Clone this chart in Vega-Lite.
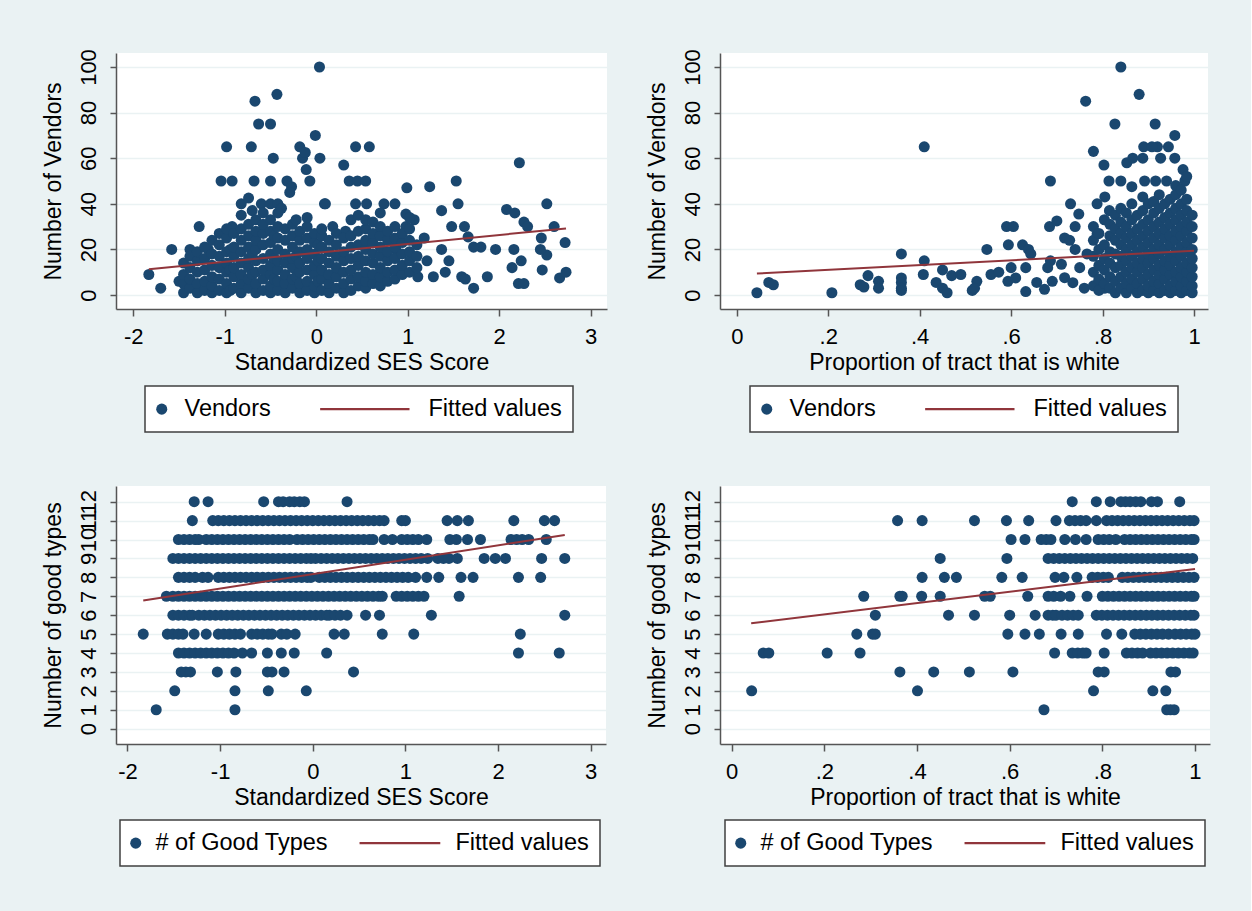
{
"$schema": "https://vega.github.io/schema/vega-lite/v6.json",
"background": "#EAF2F3",
"padding": {"left": 41, "top": 48, "right": 41, "bottom": 47},
"bounds": "flush",
"columns": 2,
"spacing": {"row": 177, "column": 113},
"config": {
  "view": {"fill": "white", "stroke": null},
  "axis": {"labelFont": "Liberation Sans", "titleFont": "Liberation Sans", "labelFontSize": 22, "titleFontSize": 23, "titleFontWeight": "normal", "labelColor": "#000", "titleColor": "#000", "domainColor": "#555", "domainWidth": 1.5, "tickColor": "#555", "tickWidth": 1.5, "gridColor": "#EAF2F3", "gridWidth": 1.5},
  "axisX": {"grid": false, "tickSize": 7, "labelPadding": 10, "minExtent": 40, "maxExtent": 40, "titlePadding": 2},
  "axisY": {"grid": true, "tickSize": 6, "labelPadding": 15, "minExtent": 40, "maxExtent": 40, "titlePadding": 16},
  "legend": {"orient": "none", "direction": "horizontal", "fillColor": "white", "strokeColor": "#404040", "strokeWidth": 1.5, "padding": 11, "labelFont": "Liberation Sans", "labelFontSize": 23.5, "labelColor": "#000", "labelLimit": 400, "symbolSize": 122, "symbolStrokeWidth": 0}
},
"resolve": {"scale": {"color": "independent", "shape": "independent"}, "legend": {"color": "independent", "shape": "independent"}},
"concat": [
 {
  "width": 491, "height": 256,
  "encoding": {
   "x": {"field": "x", "type": "quantitative", "scale": {"domain": [-2.189, 3.178], "nice": false, "zero": false}, "axis": {"values": [-2,-1,0,1,2,3], "labelExpr": "toString(datum.value)", "labelFlush": false, "labelOverlap": false, "title": "Standardized SES Score"}},
   "y": {"field": "y", "type": "quantitative", "scale": {"domain": [-6.14, 106.14], "nice": false, "zero": false}, "axis": {"values": [0,20,40,60,80,100], "labelFlush": false, "labelOverlap": false, "title": "Number of Vendors", "labelAngle": 270, "labelAlign": "center", "labelBaseline": "alphabetic", "titleAngle": 270, "titleBaseline": "alphabetic"}}
  },
  "layer": [
   {
    "data": {"values": [
{"x":0.035,"y":100},{"x":-0.43,"y":88},{"x":-0.67,"y":85},{"x":-0.63,"y":75},{"x":-0.5,"y":75},{"x":-0.01,"y":70},{"x":-0.98,"y":65},{"x":-0.71,"y":65},{"x":-0.18,"y":65},{"x":0.43,"y":65},{"x":0.58,"y":65},{"x":-0.47,"y":60},{"x":-0.15,"y":60},{"x":0.04,"y":60},{"x":-0.12,"y":62.5},{"x":2.22,"y":58},{"x":0.3,"y":57},{"x":-0.11,"y":55},{"x":-1.04,"y":50},{"x":-0.92,"y":50},{"x":-0.68,"y":50},{"x":-0.5,"y":50},{"x":-0.32,"y":50},{"x":-0.07,"y":50},{"x":0.36,"y":50},{"x":0.45,"y":50},{"x":0.54,"y":50},{"x":1.53,"y":50},{"x":-0.27,"y":47.5},{"x":-0.29,"y":45},{"x":0.99,"y":47},{"x":1.24,"y":47.5},{"x":-0.82,"y":40},{"x":-0.74,"y":42.5},{"x":-0.6,"y":40},{"x":-0.5,"y":40},{"x":-0.42,"y":40},{"x":0.09,"y":40},{"x":0.43,"y":40},{"x":0.55,"y":40},{"x":0.74,"y":40},{"x":1.55,"y":40},{"x":2.52,"y":40},{"x":-0.38,"y":38},{"x":1.37,"y":37},{"x":2.08,"y":37.5},{"x":2.17,"y":36},{"x":2.27,"y":32},{"x":2.31,"y":30},{"x":2.6,"y":30},{"x":-1.28,"y":30},{"x":-0.92,"y":30},{"x":0.98,"y":30},{"x":1.48,"y":30},{"x":1.62,"y":30},{"x":2.46,"y":25},{"x":2.72,"y":23},{"x":2.52,"y":17.5},{"x":2.45,"y":20},{"x":2.16,"y":20},{"x":1.96,"y":20},{"x":1.8,"y":21},{"x":1.72,"y":21},{"x":1.66,"y":25.5},{"x":1.37,"y":20},{"x":1.21,"y":15},{"x":1.45,"y":15},{"x":2.24,"y":15},{"x":1.28,"y":8},{"x":1.41,"y":10},{"x":1.59,"y":8},{"x":1.63,"y":7},{"x":1.72,"y":3},{"x":1.87,"y":8},{"x":2.14,"y":12},{"x":2.21,"y":5},{"x":2.27,"y":5},{"x":2.47,"y":11},{"x":2.66,"y":7.5},{"x":2.73,"y":10},{"x":-1.58,"y":20},{"x":-1.83,"y":9},{"x":-1.7,"y":3},{"x":1.11,"y":8},{"x":0.32,"y":28},{"x":0.18,"y":30},{"x":0.1,"y":40},{"x":0.86,"y":40},{"x":0.98,"y":35.5},{"x":1.07,"y":33},{"x":1.18,"y":25},{"x":0.87,"y":20},{"x":-1.38,"y":20},{"x":-1.18,"y":20},
{"x":-1.5,"y":6},{"x":-1.45,"y":1},{"x":-1.45,"y":5},{"x":-1.45,"y":9},{"x":-1.45,"y":14},{"x":-1.38,"y":3},{"x":-1.38,"y":7},{"x":-1.38,"y":12},{"x":-1.38,"y":17},{"x":-1.3,"y":1},{"x":-1.3,"y":5},{"x":-1.3,"y":10},{"x":-1.3,"y":15},{"x":-1.3,"y":19},{"x":-1.22,"y":2},{"x":-1.22,"y":6},{"x":-1.22,"y":11},{"x":-1.22,"y":16},{"x":-1.22,"y":21},{"x":-1.14,"y":1},{"x":-1.14,"y":4},{"x":-1.14,"y":8},{"x":-1.14,"y":13},{"x":-1.14,"y":18},{"x":-1.14,"y":24},{"x":-1.06,"y":2},{"x":-1.06,"y":7},{"x":-1.06,"y":12},{"x":-1.06,"y":17},{"x":-1.06,"y":22},{"x":-1.06,"y":27},{"x":-0.98,"y":1},{"x":-0.98,"y":5},{"x":-0.98,"y":10},{"x":-0.98,"y":14},{"x":-0.98,"y":19},{"x":-0.98,"y":25},{"x":-0.98,"y":29},{"x":-0.94,"y":2},{"x":-0.94,"y":11},{"x":-0.94,"y":20},{"x":-0.9,"y":3},{"x":-0.9,"y":8},{"x":-0.9,"y":12},{"x":-0.9,"y":17},{"x":-0.9,"y":21},{"x":-0.9,"y":27},{"x":-0.82,"y":1},{"x":-0.82,"y":5},{"x":-0.82,"y":9},{"x":-0.82,"y":14},{"x":-0.82,"y":19},{"x":-0.82,"y":24},{"x":-0.82,"y":29},{"x":-0.82,"y":35},{"x":-0.74,"y":3},{"x":-0.74,"y":7},{"x":-0.74,"y":12},{"x":-0.74,"y":16},{"x":-0.74,"y":21},{"x":-0.74,"y":26},{"x":-0.74,"y":31},{"x":-0.7,"y":9},{"x":-0.7,"y":18},{"x":-0.7,"y":37},{"x":-0.66,"y":1},{"x":-0.66,"y":5},{"x":-0.66,"y":10},{"x":-0.66,"y":15},{"x":-0.66,"y":20},{"x":-0.66,"y":24},{"x":-0.66,"y":28},{"x":-0.66,"y":33},{"x":-0.58,"y":2},{"x":-0.58,"y":7},{"x":-0.58,"y":11},{"x":-0.58,"y":16},{"x":-0.58,"y":22},{"x":-0.58,"y":27},{"x":-0.58,"y":31},{"x":-0.58,"y":36},{"x":-0.5,"y":1},{"x":-0.5,"y":4},{"x":-0.5,"y":9},{"x":-0.5,"y":13},{"x":-0.5,"y":18},{"x":-0.5,"y":23},{"x":-0.5,"y":28},{"x":-0.5,"y":33},{"x":-0.46,"y":7},{"x":-0.46,"y":16},{"x":-0.46,"y":26},{"x":-0.42,"y":2},{"x":-0.42,"y":6},{"x":-0.42,"y":11},{"x":-0.42,"y":15},{"x":-0.42,"y":20},{"x":-0.42,"y":25},{"x":-0.42,"y":30},{"x":-0.42,"y":36},{"x":-0.34,"y":1},{"x":-0.34,"y":5},{"x":-0.34,"y":9},{"x":-0.34,"y":14},{"x":-0.34,"y":18},{"x":-0.34,"y":24},{"x":-0.34,"y":29},{"x":-0.26,"y":3},{"x":-0.26,"y":7},{"x":-0.26,"y":12},{"x":-0.26,"y":16},{"x":-0.26,"y":21},{"x":-0.26,"y":26},{"x":-0.26,"y":31},{"x":-0.22,"y":8},{"x":-0.22,"y":17},{"x":-0.22,"y":33},{"x":-0.18,"y":1},{"x":-0.18,"y":5},{"x":-0.18,"y":10},{"x":-0.18,"y":14},{"x":-0.18,"y":19},{"x":-0.18,"y":24},{"x":-0.18,"y":28},{"x":-0.1,"y":2},{"x":-0.1,"y":6},{"x":-0.1,"y":11},{"x":-0.1,"y":16},{"x":-0.1,"y":20},{"x":-0.1,"y":25},{"x":-0.1,"y":30},{"x":-0.1,"y":34},{"x":-0.02,"y":1},{"x":-0.02,"y":4},{"x":-0.02,"y":9},{"x":-0.02,"y":13},{"x":-0.02,"y":18},{"x":-0.02,"y":23},{"x":-0.02,"y":27},{"x":0.02,"y":6},{"x":0.02,"y":15},{"x":0.02,"y":22},{"x":0.06,"y":2},{"x":0.06,"y":7},{"x":0.06,"y":11},{"x":0.06,"y":16},{"x":0.06,"y":21},{"x":0.06,"y":26},{"x":0.06,"y":29},{"x":0.14,"y":1},{"x":0.14,"y":5},{"x":0.14,"y":9},{"x":0.14,"y":14},{"x":0.14,"y":19},{"x":0.14,"y":24},{"x":0.22,"y":3},{"x":0.22,"y":8},{"x":0.22,"y":12},{"x":0.22,"y":17},{"x":0.22,"y":22},{"x":0.22,"y":27},{"x":0.3,"y":1},{"x":0.3,"y":5},{"x":0.3,"y":10},{"x":0.3,"y":15},{"x":0.3,"y":19},{"x":0.3,"y":25},{"x":0.38,"y":2},{"x":0.38,"y":7},{"x":0.38,"y":11},{"x":0.38,"y":16},{"x":0.38,"y":21},{"x":0.38,"y":26},{"x":0.38,"y":33},{"x":0.46,"y":4},{"x":0.46,"y":8},{"x":0.46,"y":13},{"x":0.46,"y":17},{"x":0.46,"y":22},{"x":0.46,"y":28},{"x":0.46,"y":35},{"x":0.54,"y":3},{"x":0.54,"y":6},{"x":0.54,"y":10},{"x":0.54,"y":15},{"x":0.54,"y":20},{"x":0.54,"y":24},{"x":0.54,"y":29},{"x":0.54,"y":33},{"x":0.62,"y":5},{"x":0.62,"y":9},{"x":0.62,"y":14},{"x":0.62,"y":18},{"x":0.62,"y":23},{"x":0.62,"y":27},{"x":0.62,"y":32},{"x":0.7,"y":4},{"x":0.7,"y":8},{"x":0.7,"y":12},{"x":0.7,"y":17},{"x":0.7,"y":21},{"x":0.7,"y":26},{"x":0.7,"y":30},{"x":0.7,"y":36},{"x":0.78,"y":6},{"x":0.78,"y":10},{"x":0.78,"y":15},{"x":0.78,"y":19},{"x":0.78,"y":24},{"x":0.78,"y":28},{"x":0.86,"y":7},{"x":0.86,"y":11},{"x":0.86,"y":16},{"x":0.86,"y":21},{"x":0.86,"y":25},{"x":0.86,"y":30},{"x":0.94,"y":9},{"x":0.94,"y":13},{"x":0.94,"y":18},{"x":0.94,"y":23},{"x":0.94,"y":27},{"x":1.02,"y":10},{"x":1.02,"y":15},{"x":1.02,"y":19},{"x":1.02,"y":24},{"x":1.02,"y":29},{"x":1.02,"y":34},{"x":1.1,"y":12},{"x":1.1,"y":17},{"x":1.1,"y":22}
    ]},
    "mark": {"type": "point", "filled": true, "size": 122, "opacity": 1},
    "encoding": {
     "color": {"datum": "Vendors", "type": "nominal", "scale": {"domain": ["Vendors", "Fitted values"], "range": ["#1a476f", "#90353b"]}, "legend": {"title": null, "orient": "none", "legendX": 29, "legendY": 333, "columnPadding": 49, "symbolOffset": -6, "labelOffset": 11, "symbolSize": 122}},
     "shape": {"datum": "Vendors", "type": "nominal", "scale": {"domain": ["Vendors", "Fitted values"], "range": ["circle", "M-15.5,-0.22H0.68V0.22H-15.5Z"]}, "legend": {"title": null, "orient": "none", "legendX": 29, "legendY": 333, "columnPadding": 49, "symbolOffset": -6, "labelOffset": 11, "symbolSize": 122}}
    }
   },
   {
    "data": {"values": [{"x": -1.83, "y": 11.3}, {"x": 2.73, "y": 29.2}]},
    "mark": {"type": "line", "color": "#90353b", "strokeWidth": 2},
    "encoding": {}
   }
  ]
 },
 {
  "width": 488, "height": 256,
  "encoding": {
   "x": {"field": "x", "type": "quantitative", "scale": {"domain": [-0.0367, 1.0306], "nice": false, "zero": false}, "axis": {"values": [0,0.2,0.4,0.6,0.8,1], "labelExpr": "datum.value == 0 ? '0' : datum.value == 1 ? '1' : replace(toString(datum.value), '0.', '.')", "labelFlush": false, "labelOverlap": false, "title": "Proportion of tract that is white"}},
   "y": {"field": "y", "type": "quantitative", "scale": {"domain": [-6.14, 106.14], "nice": false, "zero": false}, "axis": {"values": [0,20,40,60,80,100], "labelFlush": false, "labelOverlap": false, "title": "Number of Vendors", "labelAngle": 270, "labelAlign": "center", "labelBaseline": "alphabetic", "titleAngle": 270, "titleBaseline": "alphabetic"}}
  },
  "layer": [
   {
    "data": {"values": [
{"x":0.044,"y":1},{"x":0.07,"y":5.5},{"x":0.08,"y":4.5},{"x":0.208,"y":1},{"x":0.27,"y":4.5},{"x":0.278,"y":3.5},{"x":0.287,"y":8.5},{"x":0.31,"y":6},{"x":0.31,"y":3},{"x":0.36,"y":18},{"x":0.36,"y":7.5},{"x":0.36,"y":5.5},{"x":0.36,"y":3},{"x":0.36,"y":2},{"x":0.41,"y":65},{"x":0.41,"y":15},{"x":0.408,"y":9},{"x":0.436,"y":5.5},{"x":0.45,"y":11},{"x":0.45,"y":3},{"x":0.46,"y":1},{"x":0.47,"y":8.5},{"x":0.49,"y":9},{"x":0.515,"y":2},{"x":0.525,"y":6},{"x":0.52,"y":3},{"x":0.547,"y":20},{"x":0.556,"y":9},{"x":0.573,"y":10},{"x":0.59,"y":30},{"x":0.605,"y":30},{"x":0.594,"y":22},{"x":0.6,"y":12},{"x":0.593,"y":6},{"x":0.61,"y":7.5},{"x":0.625,"y":22},{"x":0.638,"y":20},{"x":0.632,"y":12},{"x":0.632,"y":1.5},{"x":0.643,"y":18},{"x":0.656,"y":5.5},{"x":0.673,"y":2.5},{"x":0.686,"y":50},{"x":0.684,"y":30},{"x":0.7,"y":32.5},{"x":0.686,"y":15},{"x":0.68,"y":12},{"x":0.69,"y":6},{"x":0.717,"y":25},{"x":0.73,"y":40},{"x":0.74,"y":30},{"x":0.748,"y":35.5},{"x":0.78,"y":63},{"x":0.763,"y":85},{"x":0.827,"y":75},{"x":0.84,"y":100},{"x":0.88,"y":88},{"x":0.915,"y":75},{"x":0.958,"y":70},{"x":0.803,"y":57},{"x":0.92,"y":65},{"x":0.944,"y":65},{"x":0.89,"y":65},{"x":0.908,"y":65},{"x":0.853,"y":58},{"x":0.866,"y":60},{"x":0.888,"y":60},{"x":0.927,"y":60},{"x":0.958,"y":60},{"x":0.814,"y":50},{"x":0.84,"y":50},{"x":0.892,"y":50},{"x":0.916,"y":50},{"x":0.94,"y":50},{"x":0.98,"y":50},{"x":0.864,"y":47.5},{"x":0.976,"y":55},{"x":0.788,"y":40},{"x":0.805,"y":43},{"x":0.815,"y":37},
{"x":0.71,"y":13.5},{"x":0.717,"y":7.6},{"x":0.728,"y":24},{"x":0.74,"y":20},{"x":0.735,"y":5.4},{"x":0.75,"y":12},{"x":0.76,"y":3},{"x":0.766,"y":18},{"x":0.788,"y":26.7},{"x":0.792,"y":6},{"x":0.805,"y":3},
{"x":0.78,"y":4},{"x":0.78,"y":10},{"x":0.78,"y":17},{"x":0.78,"y":24},{"x":0.78,"y":30},{"x":0.792,"y":2},{"x":0.792,"y":7},{"x":0.792,"y":13},{"x":0.792,"y":20},{"x":0.792,"y":27},{"x":0.804,"y":5},{"x":0.804,"y":11},{"x":0.804,"y":16},{"x":0.804,"y":22},{"x":0.804,"y":33},{"x":0.816,"y":3},{"x":0.816,"y":8},{"x":0.816,"y":14},{"x":0.816,"y":19},{"x":0.816,"y":26},{"x":0.816,"y":31},{"x":0.828,"y":1},{"x":0.828,"y":6},{"x":0.828,"y":12},{"x":0.828,"y":18},{"x":0.828,"y":24},{"x":0.828,"y":29},{"x":0.828,"y":35},{"x":0.84,"y":3},{"x":0.84,"y":8},{"x":0.84,"y":13},{"x":0.84,"y":17},{"x":0.84,"y":22},{"x":0.84,"y":27},{"x":0.84,"y":32},{"x":0.84,"y":38},{"x":0.852,"y":1},{"x":0.852,"y":5},{"x":0.852,"y":10},{"x":0.852,"y":15},{"x":0.852,"y":20},{"x":0.852,"y":25},{"x":0.852,"y":30},{"x":0.852,"y":36},{"x":0.864,"y":3},{"x":0.864,"y":7},{"x":0.864,"y":12},{"x":0.864,"y":17},{"x":0.864,"y":22},{"x":0.864,"y":27},{"x":0.864,"y":33},{"x":0.864,"y":40},{"x":0.876,"y":1},{"x":0.876,"y":5},{"x":0.876,"y":10},{"x":0.876,"y":14},{"x":0.876,"y":19},{"x":0.876,"y":24},{"x":0.876,"y":29},{"x":0.876,"y":35},{"x":0.888,"y":2},{"x":0.888,"y":7},{"x":0.888,"y":12},{"x":0.888,"y":16},{"x":0.888,"y":21},{"x":0.888,"y":26},{"x":0.888,"y":31},{"x":0.888,"y":37},{"x":0.888,"y":43},{"x":0.9,"y":1},{"x":0.9,"y":4},{"x":0.9,"y":9},{"x":0.9,"y":14},{"x":0.9,"y":18},{"x":0.9,"y":23},{"x":0.9,"y":28},{"x":0.9,"y":33},{"x":0.9,"y":40},{"x":0.912,"y":2},{"x":0.912,"y":6},{"x":0.912,"y":11},{"x":0.912,"y":16},{"x":0.912,"y":20},{"x":0.912,"y":25},{"x":0.912,"y":30},{"x":0.912,"y":36},{"x":0.912,"y":41},{"x":0.924,"y":1},{"x":0.924,"y":5},{"x":0.924,"y":9},{"x":0.924,"y":13},{"x":0.924,"y":18},{"x":0.924,"y":22},{"x":0.924,"y":27},{"x":0.924,"y":32},{"x":0.924,"y":38},{"x":0.924,"y":44},{"x":0.936,"y":2},{"x":0.936,"y":7},{"x":0.936,"y":11},{"x":0.936,"y":15},{"x":0.936,"y":20},{"x":0.936,"y":25},{"x":0.936,"y":29},{"x":0.936,"y":34},{"x":0.936,"y":40},{"x":0.948,"y":1},{"x":0.948,"y":4},{"x":0.948,"y":9},{"x":0.948,"y":13},{"x":0.948,"y":17},{"x":0.948,"y":22},{"x":0.948,"y":26},{"x":0.948,"y":31},{"x":0.948,"y":36},{"x":0.948,"y":42},{"x":0.96,"y":2},{"x":0.96,"y":6},{"x":0.96,"y":10},{"x":0.96,"y":15},{"x":0.96,"y":19},{"x":0.96,"y":24},{"x":0.96,"y":28},{"x":0.96,"y":33},{"x":0.96,"y":38},{"x":0.96,"y":44},{"x":0.96,"y":48},{"x":0.972,"y":1},{"x":0.972,"y":4},{"x":0.972,"y":8},{"x":0.972,"y":12},{"x":0.972,"y":17},{"x":0.972,"y":21},{"x":0.972,"y":26},{"x":0.972,"y":30},{"x":0.972,"y":35},{"x":0.972,"y":40},{"x":0.972,"y":46},{"x":0.984,"y":2},{"x":0.984,"y":6},{"x":0.984,"y":10},{"x":0.984,"y":14},{"x":0.984,"y":19},{"x":0.984,"y":23},{"x":0.984,"y":28},{"x":0.984,"y":32},{"x":0.984,"y":37},{"x":0.984,"y":42},{"x":0.984,"y":52},{"x":0.996,"y":1},{"x":0.996,"y":4},{"x":0.996,"y":8},{"x":0.996,"y":12},{"x":0.996,"y":16},{"x":0.996,"y":20},{"x":0.996,"y":25},{"x":0.996,"y":30},{"x":0.996,"y":35}
    ]},
    "mark": {"type": "point", "filled": true, "size": 122, "opacity": 1},
    "encoding": {
     "color": {"datum": "Vendors", "type": "nominal", "scale": {"domain": ["Vendors", "Fitted values"], "range": ["#1a476f", "#90353b"]}, "legend": {"title": null, "orient": "none", "legendX": 30, "legendY": 333, "columnPadding": 49, "symbolOffset": -6, "labelOffset": 11, "symbolSize": 122}},
     "shape": {"datum": "Vendors", "type": "nominal", "scale": {"domain": ["Vendors", "Fitted values"], "range": ["circle", "M-15.5,-0.22H0.68V0.22H-15.5Z"]}, "legend": {"title": null, "orient": "none", "legendX": 30, "legendY": 333, "columnPadding": 49, "symbolOffset": -6, "labelOffset": 11, "symbolSize": 122}}
    }
   },
   {
    "data": {"values": [{"x": 0.044, "y": 9.4}, {"x": 1.0, "y": 19.4}]},
    "mark": {"type": "line", "color": "#90353b", "strokeWidth": 2},
    "encoding": {}
   }
  ]
 },
 {
  "width": 490, "height": 258,
  "encoding": {
   "x": {"field": "x", "type": "quantitative", "scale": {"domain": [-2.124, 3.165], "nice": false, "zero": false}, "axis": {"values": [-2,-1,0,1,2,3], "labelExpr": "toString(datum.value)", "labelFlush": false, "labelOverlap": false, "title": "Standardized SES Score"}},
   "y": {"field": "y", "type": "quantitative", "scale": {"domain": [-0.81, 12.83], "nice": false, "zero": false}, "axis": {"values": [0,1,2,3,4,5,6,7,8,9,10,11,12], "labelFlush": false, "labelOverlap": false, "title": "Number of good types", "labelAngle": 270, "labelAlign": "center", "labelBaseline": "alphabetic", "titleAngle": 270, "titleBaseline": "alphabetic"}}
  },
  "layer": [
   {
    "data": {"values": [
{"x":-1.28,"y":12},{"x":-1.13,"y":12},{"x":-0.53,"y":12},{"x":-0.37,"y":12},{"x":-0.32,"y":12},{"x":-0.25,"y":12},{"x":-0.2,"y":12},{"x":-0.14,"y":12},{"x":-0.09,"y":12},{"x":0.37,"y":12},
{"x":-1.3,"y":11},{"x":-1.08,"y":11},{"x":-1.02,"y":11},{"x":-0.96,"y":11},{"x":-0.9,"y":11},{"x":-0.84,"y":11},{"x":-0.78,"y":11},{"x":-0.72,"y":11},{"x":-0.66,"y":11},{"x":-0.6,"y":11},{"x":-0.54,"y":11},{"x":-0.48,"y":11},{"x":-0.42,"y":11},{"x":-0.36,"y":11},{"x":-0.3,"y":11},{"x":-0.24,"y":11},{"x":-0.18,"y":11},{"x":-0.12,"y":11},{"x":-0.06,"y":11},{"x":0,"y":11},{"x":0.06,"y":11},{"x":0.12,"y":11},{"x":0.18,"y":11},{"x":0.24,"y":11},{"x":0.3,"y":11},{"x":0.36,"y":11},{"x":0.42,"y":11},{"x":0.48,"y":11},{"x":0.54,"y":11},{"x":0.6,"y":11},{"x":0.66,"y":11},{"x":0.72,"y":11},{"x":0.77,"y":11},{"x":0.96,"y":11},{"x":1.0,"y":11},{"x":1.45,"y":11},{"x":1.56,"y":11},{"x":1.68,"y":11},{"x":2.17,"y":11},{"x":2.5,"y":11},{"x":2.61,"y":11},
{"x":-1.45,"y":10},{"x":-1.39,"y":10},{"x":-1.33,"y":10},{"x":-1.27,"y":10},{"x":-1.23,"y":10},{"x":-1.15,"y":10},{"x":-1.09,"y":10},{"x":-1.03,"y":10},{"x":-0.97,"y":10},{"x":-0.91,"y":10},{"x":-0.85,"y":10},{"x":-0.79,"y":10},{"x":-0.73,"y":10},{"x":-0.67,"y":10},{"x":-0.61,"y":10},{"x":-0.55,"y":10},{"x":-0.49,"y":10},{"x":-0.43,"y":10},{"x":-0.37,"y":10},{"x":-0.31,"y":10},{"x":-0.25,"y":10},{"x":-0.17,"y":10},{"x":-0.11,"y":10},{"x":-0.05,"y":10},{"x":0.01,"y":10},{"x":0.07,"y":10},{"x":0.13,"y":10},{"x":0.19,"y":10},{"x":0.25,"y":10},{"x":0.31,"y":10},{"x":0.37,"y":10},{"x":0.43,"y":10},{"x":0.49,"y":10},{"x":0.55,"y":10},{"x":0.61,"y":10},{"x":0.65,"y":10},{"x":0.77,"y":10},{"x":0.86,"y":10},{"x":0.96,"y":10},{"x":1.02,"y":10},{"x":1.08,"y":10},{"x":1.14,"y":10},{"x":1.23,"y":10},{"x":1.48,"y":10},{"x":1.55,"y":10},{"x":1.67,"y":10},{"x":1.81,"y":10},{"x":2.14,"y":10},{"x":2.2,"y":10},{"x":2.26,"y":10},{"x":2.33,"y":10},{"x":2.52,"y":10},
{"x":-1.51,"y":9},{"x":-1.45,"y":9},{"x":-1.39,"y":9},{"x":-1.33,"y":9},{"x":-1.27,"y":9},{"x":-1.21,"y":9},{"x":-1.15,"y":9},{"x":-1.09,"y":9},{"x":-1.03,"y":9},{"x":-0.97,"y":9},{"x":-0.91,"y":9},{"x":-0.85,"y":9},{"x":-0.79,"y":9},{"x":-0.73,"y":9},{"x":-0.67,"y":9},{"x":-0.61,"y":9},{"x":-0.55,"y":9},{"x":-0.49,"y":9},{"x":-0.43,"y":9},{"x":-0.37,"y":9},{"x":-0.31,"y":9},{"x":-0.25,"y":9},{"x":-0.19,"y":9},{"x":-0.13,"y":9},{"x":-0.07,"y":9},{"x":-0.02,"y":9},{"x":0.03,"y":9},{"x":0.09,"y":9},{"x":0.15,"y":9},{"x":0.21,"y":9},{"x":0.27,"y":9},{"x":0.33,"y":9},{"x":0.39,"y":9},{"x":0.45,"y":9},{"x":0.51,"y":9},{"x":0.57,"y":9},{"x":0.63,"y":9},{"x":0.69,"y":9},{"x":0.75,"y":9},{"x":0.81,"y":9},{"x":0.87,"y":9},{"x":0.93,"y":9},{"x":0.99,"y":9},{"x":1.05,"y":9},{"x":1.11,"y":9},{"x":1.17,"y":9},{"x":1.24,"y":9},{"x":1.35,"y":9},{"x":1.41,"y":9},{"x":1.47,"y":9},{"x":1.56,"y":9},{"x":1.85,"y":9},{"x":1.97,"y":9},{"x":2.08,"y":9},{"x":2.47,"y":9},{"x":2.72,"y":9},
{"x":-1.45,"y":8},{"x":-1.39,"y":8},{"x":-1.33,"y":8},{"x":-1.27,"y":8},{"x":-1.19,"y":8},{"x":-1.13,"y":8},{"x":-1.02,"y":8},{"x":-0.96,"y":8},{"x":-0.9,"y":8},{"x":-0.84,"y":8},{"x":-0.78,"y":8},{"x":-0.72,"y":8},{"x":-0.66,"y":8},{"x":-0.6,"y":8},{"x":-0.54,"y":8},{"x":-0.48,"y":8},{"x":-0.42,"y":8},{"x":-0.36,"y":8},{"x":-0.3,"y":8},{"x":-0.24,"y":8},{"x":-0.18,"y":8},{"x":-0.12,"y":8},{"x":-0.06,"y":8},{"x":-0.02,"y":8},{"x":0.07,"y":8},{"x":0.13,"y":8},{"x":0.19,"y":8},{"x":0.25,"y":8},{"x":0.31,"y":8},{"x":0.37,"y":8},{"x":0.43,"y":8},{"x":0.49,"y":8},{"x":0.55,"y":8},{"x":0.61,"y":8},{"x":0.67,"y":8},{"x":0.73,"y":8},{"x":0.79,"y":8},{"x":0.85,"y":8},{"x":0.91,"y":8},{"x":0.97,"y":8},{"x":1.03,"y":8},{"x":1.11,"y":8},{"x":1.23,"y":8},{"x":1.36,"y":8},{"x":1.6,"y":8},{"x":1.73,"y":8},{"x":2.22,"y":8},{"x":2.46,"y":8},
{"x":-1.58,"y":7},{"x":-1.51,"y":7},{"x":-1.45,"y":7},{"x":-1.39,"y":7},{"x":-1.33,"y":7},{"x":-1.27,"y":7},{"x":-1.21,"y":7},{"x":-1.15,"y":7},{"x":-1.09,"y":7},{"x":-1.03,"y":7},{"x":-0.97,"y":7},{"x":-0.91,"y":7},{"x":-0.85,"y":7},{"x":-0.79,"y":7},{"x":-0.73,"y":7},{"x":-0.67,"y":7},{"x":-0.61,"y":7},{"x":-0.55,"y":7},{"x":-0.49,"y":7},{"x":-0.43,"y":7},{"x":-0.37,"y":7},{"x":-0.31,"y":7},{"x":-0.25,"y":7},{"x":-0.19,"y":7},{"x":-0.13,"y":7},{"x":-0.07,"y":7},{"x":-0.01,"y":7},{"x":0.05,"y":7},{"x":0.11,"y":7},{"x":0.17,"y":7},{"x":0.23,"y":7},{"x":0.29,"y":7},{"x":0.35,"y":7},{"x":0.41,"y":7},{"x":0.47,"y":7},{"x":0.53,"y":7},{"x":0.59,"y":7},{"x":0.65,"y":7},{"x":0.71,"y":7},{"x":0.75,"y":7},{"x":0.9,"y":7},{"x":0.96,"y":7},{"x":1.02,"y":7},{"x":1.08,"y":7},{"x":1.14,"y":7},{"x":1.2,"y":7},{"x":1.58,"y":7},
{"x":-1.51,"y":6},{"x":-1.45,"y":6},{"x":-1.39,"y":6},{"x":-1.33,"y":6},{"x":-1.3,"y":6},{"x":-1.23,"y":6},{"x":-1.17,"y":6},{"x":-1.11,"y":6},{"x":-1.05,"y":6},{"x":-0.99,"y":6},{"x":-0.93,"y":6},{"x":-0.87,"y":6},{"x":-0.81,"y":6},{"x":-0.75,"y":6},{"x":-0.69,"y":6},{"x":-0.63,"y":6},{"x":-0.57,"y":6},{"x":-0.51,"y":6},{"x":-0.45,"y":6},{"x":-0.39,"y":6},{"x":-0.33,"y":6},{"x":-0.27,"y":6},{"x":-0.21,"y":6},{"x":-0.15,"y":6},{"x":-0.09,"y":6},{"x":-0.03,"y":6},{"x":0.03,"y":6},{"x":0.09,"y":6},{"x":0.15,"y":6},{"x":0.18,"y":6},{"x":0.24,"y":6},{"x":0.3,"y":6},{"x":0.37,"y":6},{"x":0.57,"y":6},{"x":0.72,"y":6},{"x":1.28,"y":6},{"x":2.72,"y":6},
{"x":-1.83,"y":5},{"x":-1.57,"y":5},{"x":-1.51,"y":5},{"x":-1.45,"y":5},{"x":-1.4,"y":5},{"x":-1.28,"y":5},{"x":-1.15,"y":5},{"x":-1.02,"y":5},{"x":-0.96,"y":5},{"x":-0.9,"y":5},{"x":-0.84,"y":5},{"x":-0.78,"y":5},{"x":-0.66,"y":5},{"x":-0.6,"y":5},{"x":-0.54,"y":5},{"x":-0.48,"y":5},{"x":-0.44,"y":5},{"x":-0.34,"y":5},{"x":-0.28,"y":5},{"x":-0.19,"y":5},{"x":0.23,"y":5},{"x":0.34,"y":5},{"x":0.75,"y":5},{"x":1.09,"y":5},{"x":2.24,"y":5},
{"x":-1.45,"y":4},{"x":-1.39,"y":4},{"x":-1.33,"y":4},{"x":-1.27,"y":4},{"x":-1.21,"y":4},{"x":-1.15,"y":4},{"x":-1.09,"y":4},{"x":-1.03,"y":4},{"x":-0.97,"y":4},{"x":-0.91,"y":4},{"x":-0.85,"y":4},{"x":-0.76,"y":4},{"x":-0.66,"y":4},{"x":-0.49,"y":4},{"x":-0.34,"y":4},{"x":-0.2,"y":4},{"x":0.15,"y":4},{"x":2.22,"y":4},{"x":2.66,"y":4},
{"x":-1.42,"y":3},{"x":-1.37,"y":3},{"x":-1.32,"y":3},{"x":-1.03,"y":3},{"x":-0.83,"y":3},{"x":-0.49,"y":3},{"x":-0.44,"y":3},{"x":-0.31,"y":3},{"x":0.44,"y":3},
{"x":-1.49,"y":2},{"x":-0.84,"y":2},{"x":-0.48,"y":2},{"x":-0.07,"y":2},
{"x":-1.69,"y":1},{"x":-0.84,"y":1}
    ]},
    "mark": {"type": "point", "filled": true, "size": 122, "opacity": 1},
    "encoding": {
     "color": {"datum": "# of Good Types", "type": "nominal", "scale": {"domain": ["# of Good Types", "Fitted values"], "range": ["#1a476f", "#90353b"]}, "legend": {"title": null, "orient": "none", "legendX": 4, "legendY": 334, "columnPadding": 31, "symbolOffset": -7, "labelOffset": 8, "symbolSize": 122}},
     "shape": {"datum": "# of Good Types", "type": "nominal", "scale": {"domain": ["# of Good Types", "Fitted values"], "range": ["circle", "M-13.8,-0.22H0.82V0.22H-13.8Z"]}, "legend": {"title": null, "orient": "none", "legendX": 4, "legendY": 334, "columnPadding": 31, "symbolOffset": -7, "labelOffset": 8, "symbolSize": 122}}
    }
   },
   {
    "data": {"values": [{"x": -1.83, "y": 6.78}, {"x": 2.72, "y": 10.24}]},
    "mark": {"type": "line", "color": "#90353b", "strokeWidth": 2},
    "encoding": {}
   }
  ]
 },
 {
  "width": 490, "height": 258,
  "encoding": {
   "x": {"field": "x", "type": "quantitative", "scale": {"domain": [-0.0253, 1.0324], "nice": false, "zero": false}, "axis": {"values": [0,0.2,0.4,0.6,0.8,1], "labelExpr": "datum.value == 0 ? '0' : datum.value == 1 ? '1' : replace(toString(datum.value), '0.', '.')", "labelFlush": false, "labelOverlap": false, "title": "Proportion of tract that is white"}},
   "y": {"field": "y", "type": "quantitative", "scale": {"domain": [-0.81, 12.83], "nice": false, "zero": false}, "axis": {"values": [0,1,2,3,4,5,6,7,8,9,10,11,12], "labelFlush": false, "labelOverlap": false, "title": "Number of good types", "labelAngle": 270, "labelAlign": "center", "labelBaseline": "alphabetic", "titleAngle": 270, "titleBaseline": "alphabetic"}}
  },
  "layer": [
   {
    "data": {"values": [
{"x":0.735,"y":12},{"x":0.787,"y":12},{"x":0.817,"y":12},{"x":0.84,"y":12},{"x":0.85,"y":12},{"x":0.86,"y":12},{"x":0.872,"y":12},{"x":0.883,"y":12},{"x":0.906,"y":12},{"x":0.919,"y":12},{"x":0.967,"y":12},
{"x":0.358,"y":11},{"x":0.411,"y":11},{"x":0.524,"y":11},{"x":0.593,"y":11},{"x":0.641,"y":11},{"x":0.7,"y":11},{"x":0.729,"y":11},{"x":0.741,"y":11},{"x":0.753,"y":11},{"x":0.765,"y":11},{"x":0.787,"y":11},{"x":0.809,"y":11},{"x":0.821,"y":11},{"x":0.833,"y":11},{"x":0.845,"y":11},{"x":0.857,"y":11},{"x":0.869,"y":11},{"x":0.881,"y":11},{"x":0.893,"y":11},{"x":0.905,"y":11},{"x":0.917,"y":11},{"x":0.929,"y":11},{"x":0.941,"y":11},{"x":0.953,"y":11},{"x":0.965,"y":11},{"x":0.977,"y":11},{"x":0.989,"y":11},{"x":0.998,"y":11},
{"x":0.603,"y":10},{"x":0.633,"y":10},{"x":0.668,"y":10},{"x":0.679,"y":10},{"x":0.689,"y":10},{"x":0.719,"y":10},{"x":0.742,"y":10},{"x":0.765,"y":10},{"x":0.791,"y":10},{"x":0.803,"y":10},{"x":0.815,"y":10},{"x":0.829,"y":10},{"x":0.848,"y":10},{"x":0.86,"y":10},{"x":0.872,"y":10},{"x":0.884,"y":10},{"x":0.896,"y":10},{"x":0.908,"y":10},{"x":0.92,"y":10},{"x":0.932,"y":10},{"x":0.944,"y":10},{"x":0.956,"y":10},{"x":0.968,"y":10},{"x":0.98,"y":10},{"x":0.992,"y":10},{"x":0.998,"y":10},
{"x":0.45,"y":9},{"x":0.594,"y":9},{"x":0.683,"y":9},{"x":0.695,"y":9},{"x":0.707,"y":9},{"x":0.719,"y":9},{"x":0.731,"y":9},{"x":0.743,"y":9},{"x":0.755,"y":9},{"x":0.767,"y":9},{"x":0.779,"y":9},{"x":0.791,"y":9},{"x":0.803,"y":9},{"x":0.815,"y":9},{"x":0.827,"y":9},{"x":0.839,"y":9},{"x":0.851,"y":9},{"x":0.863,"y":9},{"x":0.875,"y":9},{"x":0.887,"y":9},{"x":0.899,"y":9},{"x":0.911,"y":9},{"x":0.923,"y":9},{"x":0.935,"y":9},{"x":0.947,"y":9},{"x":0.959,"y":9},{"x":0.971,"y":9},{"x":0.983,"y":9},{"x":0.995,"y":9},
{"x":0.411,"y":8},{"x":0.459,"y":8},{"x":0.485,"y":8},{"x":0.583,"y":8},{"x":0.627,"y":8},{"x":0.698,"y":8},{"x":0.717,"y":8},{"x":0.745,"y":8},{"x":0.778,"y":8},{"x":0.79,"y":8},{"x":0.802,"y":8},{"x":0.813,"y":8},{"x":0.843,"y":8},{"x":0.855,"y":8},{"x":0.867,"y":8},{"x":0.879,"y":8},{"x":0.891,"y":8},{"x":0.903,"y":8},{"x":0.915,"y":8},{"x":0.927,"y":8},{"x":0.939,"y":8},{"x":0.951,"y":8},{"x":0.963,"y":8},{"x":0.975,"y":8},{"x":0.987,"y":8},{"x":0.998,"y":8},
{"x":0.285,"y":7},{"x":0.363,"y":7},{"x":0.368,"y":7},{"x":0.41,"y":7},{"x":0.45,"y":7},{"x":0.546,"y":7},{"x":0.558,"y":7},{"x":0.639,"y":7},{"x":0.683,"y":7},{"x":0.695,"y":7},{"x":0.71,"y":7},{"x":0.73,"y":7},{"x":0.767,"y":7},{"x":0.8,"y":7},{"x":0.812,"y":7},{"x":0.824,"y":7},{"x":0.836,"y":7},{"x":0.848,"y":7},{"x":0.86,"y":7},{"x":0.872,"y":7},{"x":0.884,"y":7},{"x":0.896,"y":7},{"x":0.908,"y":7},{"x":0.92,"y":7},{"x":0.932,"y":7},{"x":0.944,"y":7},{"x":0.956,"y":7},{"x":0.968,"y":7},{"x":0.98,"y":7},{"x":0.992,"y":7},{"x":0.998,"y":7},
{"x":0.31,"y":6},{"x":0.468,"y":6},{"x":0.524,"y":6},{"x":0.6,"y":6},{"x":0.655,"y":6},{"x":0.683,"y":6},{"x":0.693,"y":6},{"x":0.7,"y":6},{"x":0.713,"y":6},{"x":0.725,"y":6},{"x":0.737,"y":6},{"x":0.748,"y":6},{"x":0.787,"y":6},{"x":0.799,"y":6},{"x":0.811,"y":6},{"x":0.823,"y":6},{"x":0.835,"y":6},{"x":0.847,"y":6},{"x":0.859,"y":6},{"x":0.871,"y":6},{"x":0.883,"y":6},{"x":0.895,"y":6},{"x":0.907,"y":6},{"x":0.919,"y":6},{"x":0.931,"y":6},{"x":0.943,"y":6},{"x":0.955,"y":6},{"x":0.967,"y":6},{"x":0.979,"y":6},{"x":0.991,"y":6},{"x":0.998,"y":6},
{"x":0.27,"y":5},{"x":0.304,"y":5},{"x":0.31,"y":5},{"x":0.596,"y":5},{"x":0.633,"y":5},{"x":0.664,"y":5},{"x":0.711,"y":5},{"x":0.748,"y":5},{"x":0.809,"y":5},{"x":0.842,"y":5},{"x":0.87,"y":5},{"x":0.882,"y":5},{"x":0.894,"y":5},{"x":0.906,"y":5},{"x":0.918,"y":5},{"x":0.93,"y":5},{"x":0.943,"y":5},{"x":0.957,"y":5},{"x":0.969,"y":5},{"x":0.981,"y":5},{"x":0.993,"y":5},{"x":1.0,"y":5},
{"x":0.068,"y":4},{"x":0.08,"y":4},{"x":0.206,"y":4},{"x":0.277,"y":4},{"x":0.697,"y":4},{"x":0.735,"y":4},{"x":0.747,"y":4},{"x":0.758,"y":4},{"x":0.765,"y":4},{"x":0.804,"y":4},{"x":0.852,"y":4},{"x":0.864,"y":4},{"x":0.876,"y":4},{"x":0.887,"y":4},{"x":0.904,"y":4},{"x":0.916,"y":4},{"x":0.928,"y":4},{"x":0.94,"y":4},{"x":0.952,"y":4},{"x":0.964,"y":4},{"x":0.976,"y":4},{"x":0.988,"y":4},{"x":0.996,"y":4},
{"x":0.363,"y":3},{"x":0.436,"y":3},{"x":0.513,"y":3},{"x":0.607,"y":3},{"x":0.791,"y":3},{"x":0.804,"y":3},{"x":0.948,"y":3},{"x":0.958,"y":3},
{"x":0.043,"y":2},{"x":0.401,"y":2},{"x":0.781,"y":2},{"x":0.909,"y":2},{"x":0.937,"y":2},
{"x":0.674,"y":1},{"x":0.939,"y":1},{"x":0.947,"y":1},{"x":0.955,"y":1}
    ]},
    "mark": {"type": "point", "filled": true, "size": 122, "opacity": 1},
    "encoding": {
     "color": {"datum": "# of Good Types", "type": "nominal", "scale": {"domain": ["# of Good Types", "Fitted values"], "range": ["#1a476f", "#90353b"]}, "legend": {"title": null, "orient": "none", "legendX": 5, "legendY": 334, "columnPadding": 31, "symbolOffset": -7, "labelOffset": 8, "symbolSize": 122}},
     "shape": {"datum": "# of Good Types", "type": "nominal", "scale": {"domain": ["# of Good Types", "Fitted values"], "range": ["circle", "M-13.8,-0.22H0.82V0.22H-13.8Z"]}, "legend": {"title": null, "orient": "none", "legendX": 5, "legendY": 334, "columnPadding": 31, "symbolOffset": -7, "labelOffset": 8, "symbolSize": 122}}
    }
   },
   {
    "data": {"values": [{"x": 0.042, "y": 5.57}, {"x": 1.0, "y": 8.44}]},
    "mark": {"type": "line", "color": "#90353b", "strokeWidth": 2},
    "encoding": {}
   }
  ]
 }
]
}
